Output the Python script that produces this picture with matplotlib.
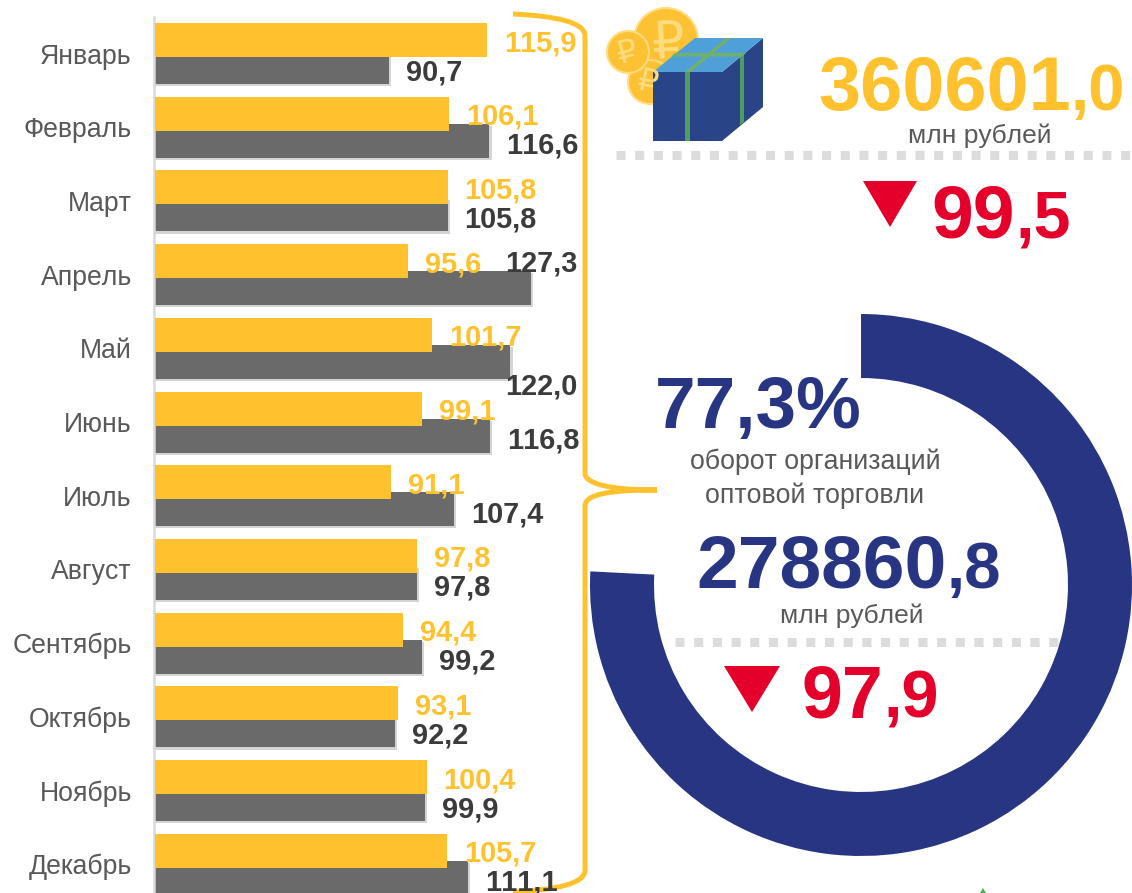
import matplotlib
matplotlib.use("Agg")

import matplotlib.pyplot as plt
import matplotlib.patheffects as pe
from matplotlib.patches import Circle, PathPatch, Polygon, Wedge
from matplotlib.path import Path

plt.rcParams["font.family"] = ["Liberation Sans", "DejaVu Sans"]
# the reference has no kerning on "11"
plt.rcParams["text.kerning_factor"] = 12

FIG_W = 1132
FIG_H = 893
DPI = 100

YELLOW = "#FFC22E"
GRAY = "#6A6A6A"
NAVY = "#283583"
RED = "#E4002B"
LIGHT = "#DCDCDC"
TEXT_GRAY = "#595959"
DARK = "#3B3B3B"

months = ["Январь", "Февраль", "Март", "Апрель", "Май", "Июнь", "Июль",
          "Август", "Сентябрь", "Октябрь", "Ноябрь", "Декабрь"]
yellow_values = [115.9, 106.1, 105.8, 95.6, 101.7, 99.1, 91.1, 97.8, 94.4, 93.1, 100.4, 105.7]
gray_values = [90.7, 116.6, 105.8, 127.3, 122.0, 116.8, 107.4, 97.8, 99.2, 92.2, 99.9, 111.1]

# the ring in the picture stops a bit short of 77,3
ring_share = 75.8

# labels that do not sit right of the bar end: month index -> pixel offset
GRAY_LABEL_SHIFT = {3: (-43, 30), 4: (-22, -20)}


def px_text(ax, x, y, s, **kw):
    kw.setdefault("va", "center_baseline")
    return ax.text(x, y, s, **kw)


def split_number(ax, joint, y, big, small, color, big_size, small_size):
    px_text(ax, joint, y, big, ha="right", color=color, fontsize=big_size, fontweight="bold", va="baseline")
    px_text(ax, joint, y, small, ha="left", color=color, fontsize=small_size, fontweight="bold", va="baseline")


def draw_bars(ax):
    xscale = 3.88
    xmin = 30.4
    ax.set_xlim(xmin, xmin + 445 / xscale)
    period = 73.7
    ax.set_ylim((893 - 53.5) / period, (17 - 53.5) / period)

    # set_position resets the ticks, so it goes first
    ax.spines["left"].set_position(("outward", 0.7))

    height = 34 / period
    step = 13.5 / period
    pos = range(len(months))
    shadow = [pe.SimplePatchShadow(offset=(1.6, -1.6), shadow_rgbFace="#D4D4D4", alpha=1), pe.Normal()]

    gray_bars = ax.barh([i + step for i in pos], gray_values, height=height, color=GRAY, zorder=2)
    for bar in gray_bars:
        bar.set_path_effects(shadow)
    ax.barh([i - step for i in pos], yellow_values, height=height, color=YELLOW, zorder=3)

    for i in pos:
        ax.annotate(f"{yellow_values[i]:.1f}".replace(".", ","), (yellow_values[i], i - step),
                    xytext=(17, 0), textcoords="offset pixels", ha="left", va="center_baseline",
                    color=YELLOW, fontsize=20.8, fontweight="bold", zorder=5)
        dx, dy = GRAY_LABEL_SHIFT.get(i, (0, 0))
        ax.annotate(f"{gray_values[i]:.1f}".replace(".", ","), (gray_values[i], i + step),
                    xytext=(17 + dx, -2 + dy), textcoords="offset pixels", ha="left", va="center_baseline",
                    color=DARK, fontsize=20.8, fontweight="bold", zorder=5)

    ax.set_yticks(list(pos), months, color=TEXT_GRAY, fontsize=19.2)
    ax.tick_params(axis="y", length=0, pad=16)
    ax.set_xticks([])
    for side in ["top", "right", "bottom"]:
        ax.spines[side].set_visible(False)
    ax.spines["left"].set_color("#D9D9D9")
    ax.spines["left"].set_linewidth(1.8)
    ax.patch.set_alpha(0)


def draw_brace(ax):
    verts = [(513, 14), (555, 16), (585, 22), (585, 36),
             (585, 473),
             (585, 484), (610, 490), (657, 490),
             (610, 490), (585, 494), (585, 506),
             (585, 870),
             (585, 884), (555, 890), (513, 892)]
    codes = [Path.MOVETO, Path.CURVE4, Path.CURVE4, Path.CURVE4,
             Path.LINETO,
             Path.CURVE4, Path.CURVE4, Path.CURVE4,
             Path.CURVE4, Path.CURVE4, Path.CURVE4,
             Path.LINETO,
             Path.CURVE4, Path.CURVE4, Path.CURVE4]
    ax.add_patch(PathPatch(Path(verts, codes), fill=False, edgecolor=YELLOW, linewidth=3.6, capstyle="butt"))


def draw_icon(ax):
    # x, y, radius, sign x, sign y, sign size, sign tilt
    coins = [(666, 40, 32, 668, 44, 37, 3),
             (650, 82, 22, 648, 83, 23, -12),
             (628, 52, 21, 628, 53, 23, 15)]
    for x, y, r, sx, sy, size, tilt in coins:
        ax.add_patch(Circle((x, y), r, facecolor="#FDC134", edgecolor="#FFDD80", linewidth=1.5))
        ax.text(sx, sy, "₽", ha="center", va="center", color="#FFDD80", fontsize=size,
                family="DejaVu Sans", rotation=tilt, rotation_mode="anchor")

    ax.add_patch(Polygon([(653, 72), (722, 72), (722, 141), (653, 141)], facecolor="#2A4488"))
    ax.add_patch(Polygon([(722, 72), (763, 38), (763, 107), (722, 141)], facecolor="#2A4488"))
    ax.add_patch(Polygon([(653, 72), (695, 38), (763, 38), (722, 72)], facecolor="#4F9FD9"))
    green = "#4E9F5F"
    ax.add_patch(Polygon([(685, 72), (690, 72), (690, 141), (685, 141)], facecolor=green))
    ax.add_patch(Polygon([(740, 57), (744, 53), (744, 122), (740, 125)], facecolor=green))
    ax.add_patch(Polygon([(685, 72), (691, 72), (731, 38), (726, 38)], facecolor="#6FB16B"))
    ax.add_patch(Polygon([(675, 53), (746, 53), (742, 56.5), (671, 56.5)], facecolor="#6FB16B"))


def dotted(ax, x0, x1, y):
    ax.plot([x0, x1], [y, y], color=LIGHT, linewidth=6.5, linestyle=(0, (1, 1.07)),
            dash_capstyle="butt", solid_capstyle="butt")


def main():
    fig = plt.figure(figsize=(FIG_W / DPI, FIG_H / DPI), dpi=DPI)

    over = fig.add_axes([0, 0, 1, 1])
    over.set_xlim(0, FIG_W)
    over.set_ylim(FIG_H, 0)
    over.axis("off")

    chart = fig.add_axes([155 / FIG_W, 0, 445 / FIG_W, (FIG_H - 17) / FIG_H])
    draw_bars(chart)

    sweep = 360 * ring_share / 100
    over.add_patch(Wedge((861, 585), 271, -90, -90 + sweep, width=64, facecolor=NAVY, edgecolor="none"))

    draw_brace(over)
    draw_icon(over)

    split_number(over, 1071, 110, "360601", ",0", YELLOW, 54.5, 47)
    px_text(over, 980, 133, "млн рублей", ha="center", color=TEXT_GRAY, fontsize=19)
    dotted(over, 616, 1130, 155)

    over.add_patch(Polygon([(863, 181), (917, 181), (890, 227)], facecolor=RED))
    split_number(over, 1015, 238, "99", ",5", RED, 54, 48)

    px_text(over, 655, 428, "77,3%", ha="left", va="baseline", color=NAVY, fontsize=52.5, fontweight="bold")
    px_text(over, 815, 459, "оборот организаций", ha="center", color=TEXT_GRAY, fontsize=19.2)
    px_text(over, 815, 493, "оптовой торговли", ha="center", color=TEXT_GRAY, fontsize=19.2)
    split_number(over, 947, 588, "278860", ",8", NAVY, 54, 47)
    px_text(over, 852, 613, "млн рублей", ha="center", color=TEXT_GRAY, fontsize=19)
    dotted(over, 675, 1060, 642)

    over.add_patch(Polygon([(724, 666), (780, 666), (752, 712)], facecolor=RED))
    split_number(over, 883, 717, "97", ",9", RED, 53, 48)

    over.add_patch(Polygon([(980, 893), (986, 893), (983, 888)], facecolor="#4CAF50"))

    fig.savefig("out.png", dpi=DPI)
    plt.close(fig)


if __name__ == "__main__":
    main()
